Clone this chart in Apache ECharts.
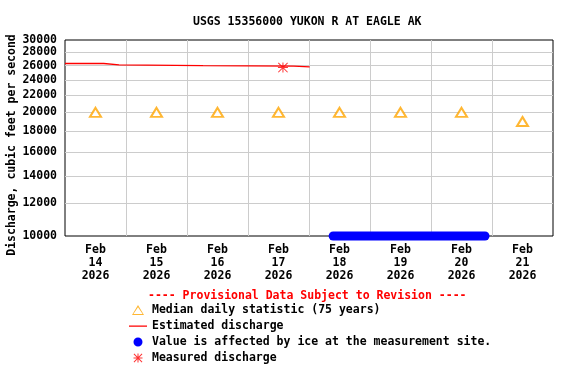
<!DOCTYPE html>
<html>
<head>
<meta charset="utf-8">
<script src="https://cdn.jsdelivr.net/npm/echarts@6/dist/echarts.min.js"></script>
<style>html,body{margin:0;padding:0;background:#fff}#c{width:576px;height:384px}</style>
</head>
<body>
<div id="c"></div>
<script>
// ---- data ----
const titleText = 'USGS 15356000 YUKON R AT EAGLE AK';
const provisionalText = '---- Provisional Data Subject to Revision ----';
const yAxisName = 'Discharge, cubic feet per second';
const dayLabels = ['Feb\n14\n2026','Feb\n15\n2026','Feb\n16\n2026','Feb\n17\n2026','Feb\n18\n2026','Feb\n19\n2026','Feb\n20\n2026','Feb\n21\n2026'];
const yTicks = [10000,12000,14000,16000,18000,20000,22000,24000,26000,28000,30000];
const U = (d,h,m) => Date.UTC(2026,1,d,h||0,m||0);
const xStart = U(14), xEnd = U(22);
const medianTimes = [U(14,12),U(15,12),U(16,12),U(17,12),U(18,12),U(19,12),U(20,12),U(21,12)];
const medianValues = [20000,20000,20000,20000,20000,20000,20000,19000];
const estTimes = [U(14,0),U(14,15,15),U(14,21,15),U(16,6,15),U(17,18,0),U(18,0,15)];
const estValues = [26300,26100,26000,25900,25800,25800];
const iceTimes = [U(18,9,30),U(20,21,15)];
const iceValues = [10000,10000];
const measuredTimes = [U(17,13,45)];
const measuredValues = [25700];
const names = ['Median daily statistic (75 years)','Estimated discharge','Value is affected by ice at the measurement site.','Measured discharge'];

const FONT = 'DejaVu Sans Mono';
const pad = 'M0,0L0,0ZM18,12L18,12Z';
const triIcon = 'path://' + pad + 'M9,1L15,11L3,11ZM9,3.2L4.4,10.1L13.6,10.1Z';
const lineIcon = 'path://' + pad + 'M0,5.5H18V6.7H0Z';
const dotIcon = 'path://' + pad + 'M9,1.5A4.5,4.5 0 1 1 9,10.5A4.5,4.5 0 1 1 9,1.5Z';
const starIcon = 'path://' + pad + 'M4.5,5.5H13.5V6.5H4.5ZM8.5,1.5H9.5V10.5H8.5ZM5.3,1.6L13.4,9.7L12.7,10.4L4.6,2.3ZM12.7,1.6L13.4,2.3L5.3,10.4L4.6,9.7Z';
const starSym = 'path://M0,4.5H10V5.5H0ZM4.5,0H5.5V10H4.5ZM0.7,0L10,9.3L9.3,10L0,0.7ZM9.3,0L10,0.7L0.7,10L0,9.3Z';

const zip = (a,b) => a.map((v,i)=>[v,b[i]]);
const chart = echarts.init(document.getElementById('c'), null, {renderer:'canvas'});
chart.setOption({
  animation: false,
  backgroundColor: '#fff',
  title: [
    {text: titleText, left: 193, top: 16, padding:0, textStyle:{fontFamily:FONT,fontSize:11.5,fontWeight:'bold',color:'#000'}},
    {text: provisionalText, left: 148, top: 290, padding:0, textStyle:{fontFamily:FONT,fontSize:11.5,fontWeight:'bold',color:'#ff0000'}}
  ],
  grid: {left:65, right:23, top:40, bottom:148, show:true, borderColor:'#000', borderWidth:1, backgroundColor:'transparent', outerBoundsMode:'none', containLabel:false},
  legend: {
    orient:'vertical', left:129, top:304, padding:0, itemWidth:18, itemHeight:12, itemGap:4,
    selectedMode:false,
    itemStyle:{borderWidth:0},
    textStyle:{fontFamily:FONT,fontSize:11.5,fontWeight:'bold',color:'#000',lineHeight:12},
    data:[
      {name:names[0], icon:triIcon, itemStyle:{color:'#ffa500',borderWidth:0}},
      {name:names[1], icon:lineIcon, itemStyle:{color:'#ff0000',borderWidth:0}},
      {name:names[2], icon:dotIcon, itemStyle:{color:'#0000ff',borderWidth:0}},
      {name:names[3], icon:starIcon, itemStyle:{color:'#ff0000',borderWidth:0}}
    ]
  },
  xAxis: [
    {type:'value', min:xStart, max:xEnd, interval:86400000,
     axisLine:{show:false}, axisTick:{show:false}, axisLabel:{show:false},
     splitLine:{show:true, showMinLine:false, showMaxLine:false, lineStyle:{color:'#cccccc', width:1}}},
    {type:'category', data:dayLabels, boundaryGap:true, position:'bottom',
     axisLine:{show:false}, axisTick:{show:false}, splitLine:{show:false},
     axisLabel:{interval:0, margin:8, fontFamily:FONT, fontSize:11.5, fontWeight:'bold', color:'#000', lineHeight:13}}
  ],
  yAxis: {
    type:'log', logBase:10, min:10000, max:30000,
    name: yAxisName, nameLocation:'middle', nameRotate:90, nameGap:47, nameMoveOverlap:false,
    nameTextStyle:{fontFamily:FONT,fontSize:11.5,fontWeight:'bold',color:'#000', padding:[0,14,0,0]},
    axisLine:{show:false},
    axisTick:{show:false, customValues:yTicks},
    axisLabel:{customValues:yTicks, margin:8, fontFamily:FONT,fontSize:11.5,fontWeight:'bold',color:'#000', formatter:v=>String(Math.round(v))},
    splitLine:{show:true, showMinLine:false, showMaxLine:false, lineStyle:{color:'#cccccc', width:1}}
  },
  series: [
    {name:names[0], type:'scatter', xAxisIndex:0, data:zip(medianTimes,medianValues),
     symbol:'emptyTriangle', symbolSize:[11,9], itemStyle:{color:'#ffa500', borderWidth:1}, z:3},
    {name:names[1], type:'line', xAxisIndex:0, data:zip(estTimes,estValues), step:'end',
     showSymbol:false, symbol:'none', lineStyle:{color:'#ff0000', width:1.3}, itemStyle:{color:'#ff0000'}, z:2},
    {name:names[2], type:'line', xAxisIndex:0, data:zip(iceTimes,iceValues), clip:false,
     showSymbol:false, symbol:'none', lineStyle:{color:'#0000ff', width:9, cap:'round'}, itemStyle:{color:'#0000ff'}, z:4},
    {name:names[3], type:'scatter', xAxisIndex:0, data:zip(measuredTimes,measuredValues),
     symbol:starSym, symbolSize:[10,10], itemStyle:{color:'#ff0000'}, z:5}
  ]
});
</script>
</body>
</html>
